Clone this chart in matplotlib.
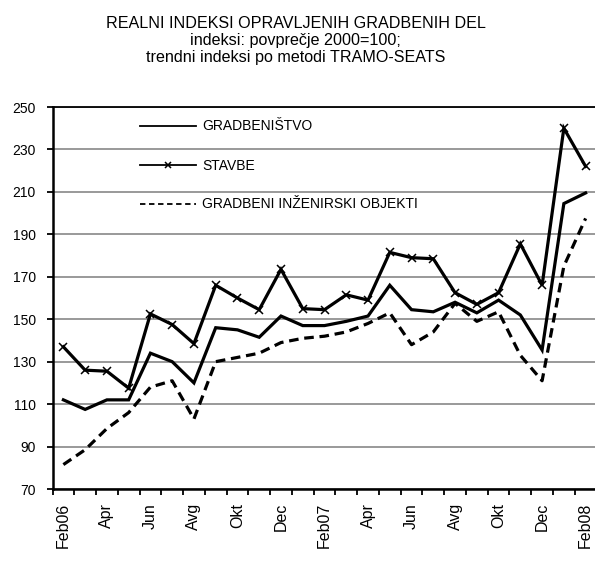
import matplotlib
matplotlib.use("Agg")
import matplotlib.pyplot as plt
from matplotlib.lines import Line2D

plt.rcParams['font.family'] = ['Liberation Sans', 'DejaVu Sans']

months = ["Feb06", "Mar", "Apr", "Maj", "Jun", "Jul", "Avg", "Sep", "Okt", "Nov", "Dec", "Jan07",
          "Feb07", "Mar", "Apr", "Maj", "Jun", "Jul", "Avg", "Sep", "Okt", "Nov", "Dec", "Jan08", "Feb08"]
tick_labels = ["Feb06", "Apr", "Jun", "Avg", "Okt", "Dec", "Feb07", "Apr", "Jun", "Avg", "Okt", "Dec", "Feb08"]

gradbenistvo = [112, 107.5, 112, 112, 134, 130, 120, 146, 145, 141.5, 151.5, 147, 147,
                149, 151.5, 166, 154.5, 153.5, 158, 153, 159, 152, 135.5, 204.5, 209.5]
stavbe = [137, 126, 125.5, 117.5, 152.5, 147.5, 138.5, 166, 160, 154.5, 173.5, 155, 154.5,
          161.5, 159, 181.5, 179, 178.5, 162.5, 157, 162.5, 185.5, 166, 240, 222]
inzenirski = [81.5, 88.5, 98.5, 106, 118, 121, 103, 130, 132, 134, 139, 141, 142,
              144, 148, 153, 138, 144, 157.5, 149, 153.5, 133, 121, 175, 197.5]

labels = ["GRADBENIŠTVO", "STAVBE", "GRADBENI INŽENIRSKI OBJEKTI"]
title = ("REALNI INDEKSI OPRAVLJENIH GRADBENIH DEL\n"
         "indeksi: povprečje 2000=100;\n"
         "trendni indeksi po metodi TRAMO-SEATS")

W, H = 595, 561
fig = plt.figure(figsize=(W / 100, H / 100), dpi=100)
left, right, top, bottom = 52.5, 596.5, 107, 489
ax = fig.add_axes([left / W, 1 - bottom / H, (right - left) / W, (bottom - top) / H])

x = list(range(len(months)))
lw = 2.3
ax.plot(x, gradbenistvo, color='black', lw=lw, solid_joinstyle='miter', zorder=3)
ax.plot(x, stavbe, color='black', lw=lw, marker='x', markersize=6, markeredgewidth=1.1,
        solid_joinstyle='miter', zorder=3)
ax.plot(x, inzenirski, color='black', lw=lw, linestyle=(0, (3, 1.8)), zorder=3)

ax.set_xlim(-0.5, len(months) - 0.5)
ax.set_ylim(70, 250)
ax.set_yticks(range(70, 251, 20))
ax.yaxis.grid(True, color='#888888', lw=1.2)
ax.set_axisbelow(True)

ax.set_xticks([i - 0.5 for i in range(len(months) + 1)], minor=False)
ax.set_xticklabels([])
ax.set_xticks(x[::2], minor=True)
ax.set_xticklabels(tick_labels, minor=True, rotation=90, fontsize=11.5)
ax.tick_params(axis='x', which='major', direction='out', length=4.5, width=1.3, color='black')
ax.tick_params(axis='x', which='minor', length=0, pad=10)
ax.tick_params(axis='y', direction='out', length=4, width=1.3, labelsize=10, pad=8)

for s in ['left', 'bottom']:
    ax.spines[s].set_linewidth(1.8)
    ax.spines[s].set_color('black')
ax.spines['top'].set_linewidth(1.3)
ax.spines['top'].set_color('black')
ax.spines['right'].set_visible(False)

handles = [Line2D([], [], color='black', lw=1.3),
           Line2D([], [], color='black', lw=1.3, marker='x', markersize=5, markeredgewidth=1.1),
           Line2D([], [], color='black', lw=1.3, linestyle=(0, (3, 2)))]
ax.legend(handles, labels, loc='upper left',
          bbox_to_anchor=((140 - left) / (right - left), 1 - 12.5 / (bottom - top)),
          frameon=False, fontsize=10, handlelength=4.0, handletextpad=0.5, labelspacing=1.8,
          borderaxespad=0, borderpad=0, numpoints=1)

fig.text(0.497, 1 - 16 / H, title, ha='center', va='top', fontsize=11.6, linespacing=1.15)

fig.savefig("out.png", dpi=100)
